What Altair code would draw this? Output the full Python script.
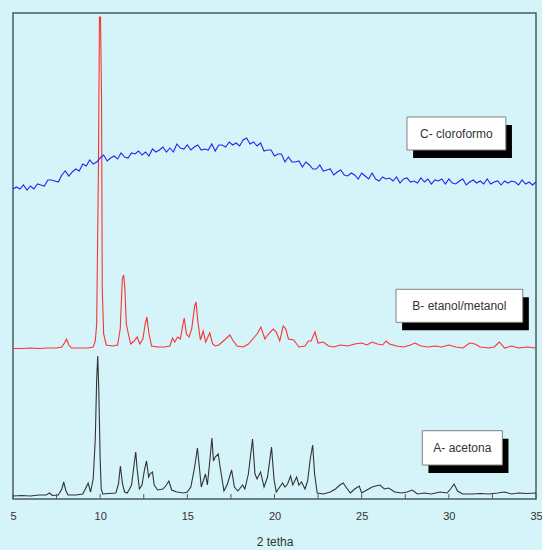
import altair as alt
import pandas as pd

# Diffractograms: 2θ positions and intensities (stacked, arbitrary units)
theta_a = [5.0, 5.5, 6.0, 6.5, 6.9, 7.1, 7.25, 7.6, 7.8, 7.91, 8.02, 8.15, 8.6, 9.0, 9.15,
           9.31, 9.45, 9.6, 9.72, 9.8, 9.86, 9.92, 10.0, 10.06, 10.15, 10.5, 10.9, 11.05,
           11.16, 11.28, 11.4, 11.55, 11.65, 11.8, 11.95, 12.04, 12.12, 12.25, 12.4, 12.55,
           12.66, 12.78, 12.85, 13.0, 13.1, 13.3, 13.6, 13.8, 13.94, 14.1, 14.4, 14.8, 15.0,
           15.2, 15.4, 15.58, 15.7, 15.8, 16.04, 16.15, 16.3, 16.41, 16.5, 16.6, 16.77, 16.9,
           17.1, 17.3, 17.54, 17.7, 17.9, 18.17, 18.3, 18.5, 18.74, 18.88, 19.0, 19.2, 19.4,
           19.6, 19.83, 19.97, 20.1, 20.3, 20.46, 20.6, 20.75, 20.92, 21.05, 21.27, 21.4,
           21.55, 21.75, 21.9, 22.05, 22.19, 22.3, 22.45, 22.8, 23.2, 23.5, 23.75, 23.94,
           24.1, 24.35, 24.6, 24.86, 25.0, 25.3, 25.6, 25.8, 26.05, 26.3, 26.55, 26.9, 27.3,
           27.6, 27.9, 28.2, 28.6, 29.0, 29.5, 29.9, 30.1, 30.3, 30.5, 30.8, 31.3, 31.8,
           32.3, 32.8, 33.2, 33.6, 34.0, 34.5, 35.0]
counts_a = [3, 3.5, 3, 4, 4, 6, 3.5, 4, 10, 17, 9, 4, 4, 5, 10,
            16, 7, 20, 60, 120, 143, 110, 40, 10, 5, 5.5, 6, 15,
            33, 15, 7, 6, 9, 14, 35, 47, 30, 10, 14, 30,
            38, 22, 25, 27, 14, 9, 10, 14, 18, 9, 7, 6, 7,
            12, 30, 51, 30, 12, 25, 14, 40, 61, 38, 42, 45, 30,
            8, 15, 29, 12, 8, 14, 10, 25, 60, 25, 20, 27, 12,
            22, 52, 20, 7, 12, 16, 12, 15, 23, 14, 22, 14,
            17, 10, 18, 40, 54, 25, 6, 5, 7, 10, 14, 16,
            12, 6, 10, 13, 6, 9, 12, 13, 14, 10, 11, 7, 6,
            7, 9, 5, 6, 5, 7, 6, 10, 15, 8, 5, 5, 5.5,
            5, 6, 7, 5, 6, 5.5, 6]

theta_b = [5.0, 5.5, 6.0, 6.5, 7.0, 7.5, 7.8, 7.95, 8.07, 8.2, 8.35, 8.8, 9.3, 9.6, 9.72,
           9.8, 9.9, 9.96, 10.02, 10.08, 10.12, 10.2, 10.35, 10.7, 11.0, 11.15, 11.27, 11.35,
           11.42, 11.5, 11.62, 11.75, 11.95, 12.12, 12.27, 12.45, 12.58, 12.68, 12.8, 12.95,
           13.3, 13.7, 14.0, 14.15, 14.28, 14.45, 14.6, 14.72, 14.82, 14.95, 15.1, 15.25,
           15.42, 15.5, 15.6, 15.75, 15.91, 16.05, 16.29, 16.45, 16.6, 16.8, 17.0, 17.2,
           17.44, 17.6, 17.85, 18.2, 18.5, 18.75, 19.0, 19.22, 19.45, 19.65, 19.93, 20.1,
           20.3, 20.5, 20.65, 20.8, 21.1, 21.4, 21.75, 21.95, 22.1, 22.32, 22.5, 22.8, 23.1,
           23.4, 23.8, 24.2, 24.6, 25.0, 25.3, 25.6, 25.9, 26.2, 26.4, 26.6, 27.0, 27.4,
           27.8, 28.06, 28.4, 28.8, 29.2, 29.6, 30.0, 30.4, 30.8, 31.2, 31.5, 31.8, 32.3,
           32.6, 32.9, 33.2, 33.6, 34.0, 34.5, 35.0]
counts_b = [150.5, 150.5, 151, 150.5, 151, 151, 152, 156, 160, 154, 151, 151, 151, 152, 158,
            175, 330, 482, 482, 400, 210, 165, 154, 153, 154, 170, 220, 224,
            210, 175, 165, 155, 158, 162, 155, 160, 175, 182, 165, 153,
            152, 152, 153, 161, 157, 162, 160, 172, 181, 165, 162, 170,
            193, 197, 178, 159, 168, 157, 166, 155, 153, 154, 157, 160,
            164, 159, 153, 152, 155, 160, 165, 172, 160, 165, 170, 167,
            158, 173, 170, 160, 159, 152, 153, 158, 158, 167, 156, 157, 153,
            152, 154, 153, 155, 156, 154, 157, 155, 154, 158, 155, 153, 152,
            154, 156, 153, 152, 153, 152, 154, 152, 151, 156, 155, 152, 151,
            152, 157, 151, 153, 151, 152, 151]

# amorphous halo, sampled every 0.2°
theta_c = [round(5 + 0.2 * i, 2) for i in range(151)]
counts_c = [310, 312, 310, 314, 309, 313, 310, 315, 314, 313,
            319, 319, 318, 317, 324, 328, 323, 327, 330, 328,
            335, 333, 339, 335, 337, 341, 344, 338, 341, 343,
            340, 346, 342, 341, 346, 345, 348, 344, 347, 343,
            350, 347, 349, 352, 347, 351, 347, 355, 351, 350,
            354, 349, 352, 354, 349, 350, 349, 355, 348, 354,
            354, 352, 357, 354, 356, 353, 359, 361, 355, 357,
            353, 356, 348, 349, 349, 343, 345, 345, 337, 342,
            337, 337, 338, 332, 337, 334, 330, 330, 334, 328,
            329, 330, 324, 327, 329, 324, 323, 326, 324, 320,
            326, 323, 320, 326, 320, 318, 322, 320, 321, 318,
            322, 316, 320, 321, 317, 318, 316, 321, 317, 320,
            315, 319, 318, 320, 315, 320, 316, 315, 318, 320,
            314, 317, 319, 316, 318, 315, 320, 315, 317, 318,
            314, 318, 316, 318, 317, 314, 319, 315, 317, 314,
            317]

sample_names = ["A- acetona", "B- etanol/metanol", "C- cloroformo"]
sample_colors = ["#333333", "#ff3030", "#2424f0"]

tick_positions = [5, 7.5, 10, 12.5, 15, 17.5, 20, 22.5, 25, 27.5, 30, 32.5, 35]
label_values = [5, 10, 15, 20, 25, 30, 35]

# label boxes: 2θ extent and intensity extent of each box
box_x0 = [28.48, 26.97, 27.60]
box_x1 = [33.07, 34.24, 33.27]
box_y0 = [34, 176.7, 349]
box_y1 = [68.3, 209.7, 382]
shadow_dx = 0.35
shadow_dy = 8

FONT = "Liberation Sans"
BG = "#d4f4f9"

traces = pd.concat([
    pd.DataFrame({"theta": theta_a, "counts": counts_a, "sample": sample_names[0]}),
    pd.DataFrame({"theta": theta_b, "counts": counts_b, "sample": sample_names[1]}),
    pd.DataFrame({"theta": theta_c, "counts": counts_c, "sample": sample_names[2]}),
], ignore_index=True)

boxes = pd.DataFrame({"name": sample_names, "x0": box_x0, "x1": box_x1,
                      "y0": box_y0, "y1": box_y1})
ticks = pd.DataFrame({"t": tick_positions})

x_scale = alt.Scale(domain=[5, 35], nice=False, zero=False)
y_scale = alt.Scale(domain=[0, 486], nice=False, zero=False)
x_axis = alt.Axis(values=label_values, title="2 tetha", format="d",
                  ticks=False, domain=False, grid=False, labelFlush=False,
                  labelFont=FONT, labelFontSize=11, labelColor="#333333",
                  labelPadding=11, titleFont=FONT, titleFontSize=12,
                  titleFontWeight="normal", titleColor="#333333", titlePadding=15)

lines = alt.Chart(traces).mark_line(strokeWidth=1.1).encode(
    x=alt.X("theta:Q", scale=x_scale, axis=x_axis),
    y=alt.Y("counts:Q", scale=y_scale, axis=None),
    color=alt.Color("sample:N", scale=alt.Scale(domain=sample_names, range=sample_colors),
                    legend=None),
)

tick_marks = alt.Chart(ticks).mark_rule(color="#4f5b5e", strokeWidth=1).encode(
    x=alt.X("t:Q", scale=x_scale, axis=x_axis),
    y=alt.value(486),
    y2=alt.value(481),
)

shadows = alt.Chart(boxes).transform_calculate(
    sx0=f"datum.x0 + {shadow_dx}", sx1=f"datum.x1 + {shadow_dx}",
    sy0=f"datum.y0 - {shadow_dy}", sy1=f"datum.y1 - {shadow_dy}",
).mark_rect(fill="black").encode(
    x=alt.X("sx0:Q", scale=x_scale, axis=x_axis), x2="sx1:Q",
    y=alt.Y("sy0:Q", scale=y_scale, axis=None), y2="sy1:Q",
)

frames = alt.Chart(boxes).mark_rect(fill="white", stroke="#808080", strokeWidth=1).encode(
    x=alt.X("x0:Q", scale=x_scale, axis=x_axis), x2="x1:Q",
    y=alt.Y("y0:Q", scale=y_scale, axis=None), y2="y1:Q",
)

labels = alt.Chart(boxes).transform_calculate(
    xc="(datum.x0 + datum.x1) / 2", yc="(datum.y0 + datum.y1) / 2",
).mark_text(font=FONT, fontSize=12, color="#333333", align="center",
            baseline="middle").encode(
    x=alt.X("xc:Q", scale=x_scale, axis=x_axis),
    y=alt.Y("yc:Q", scale=y_scale, axis=None),
    text="name:N",
)

chart = alt.layer(lines, tick_marks, shadows, frames, labels).properties(
    width=523,
    height=486,
    padding={"left": 13, "top": 13, "right": 6, "bottom": 51},
    autosize=alt.AutoSizeParams(type="none"),
    background=BG,
).configure_view(
    stroke="#4f5b5e",
    strokeWidth=1.5,
)

chart.save("out.html", embed_options={"renderer": "svg", "actions": False})
